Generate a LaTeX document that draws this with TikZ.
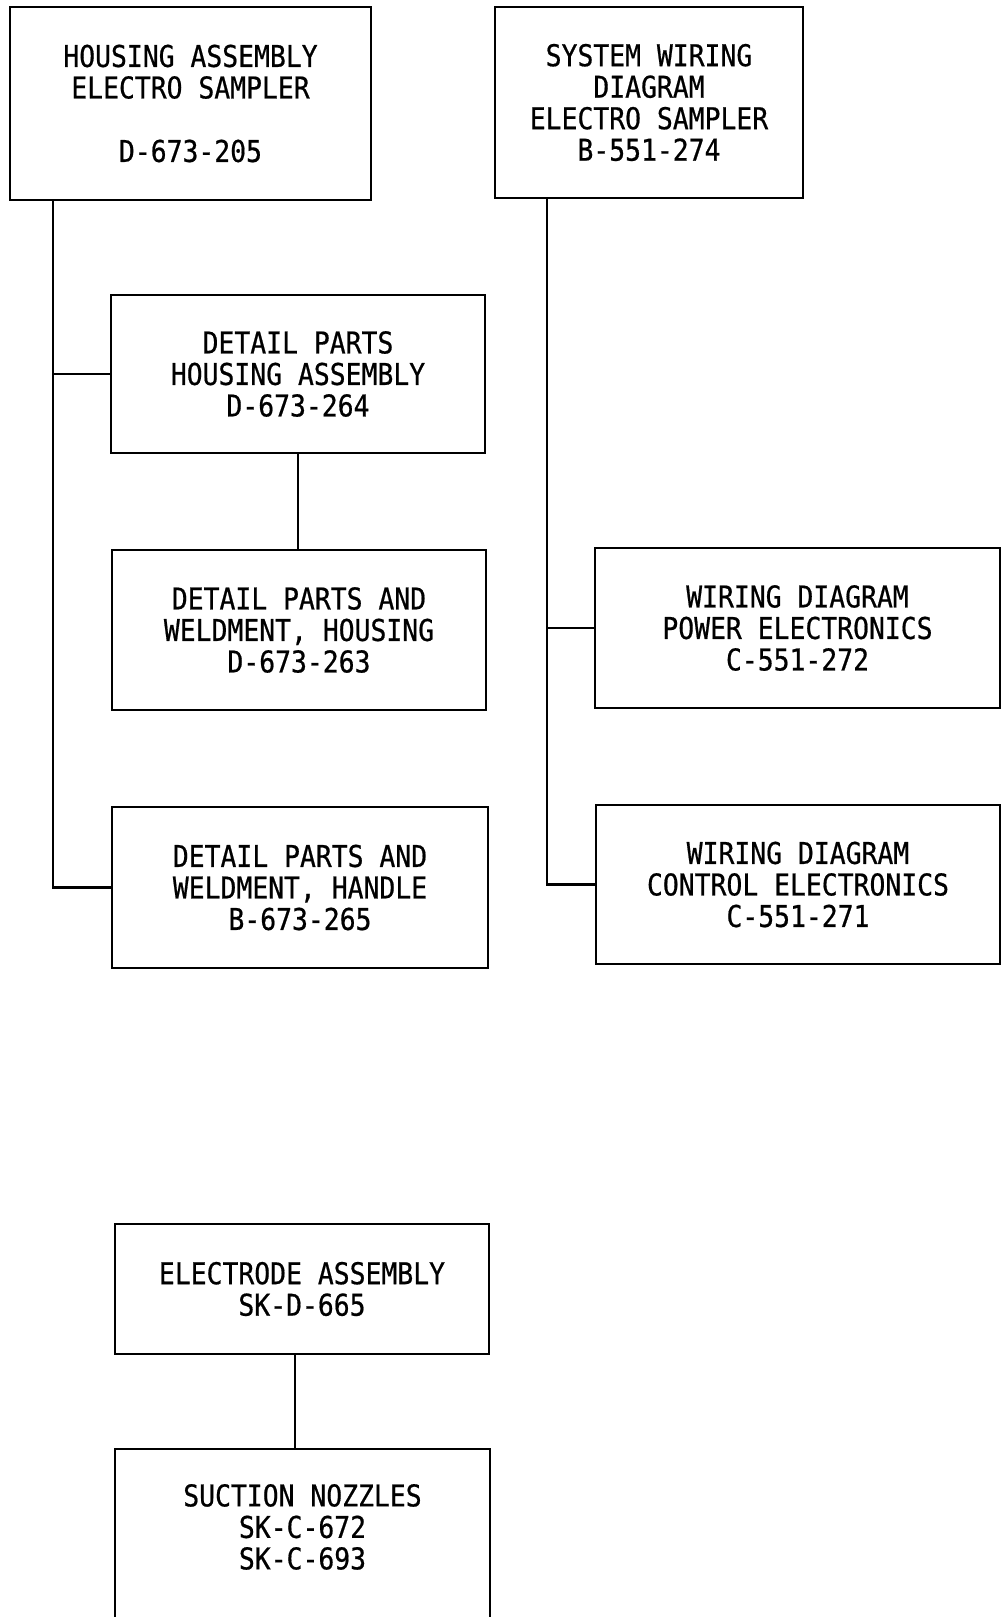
\documentclass[tikz,border=0pt]{standalone}
\usepackage{fontspec}
\newfontfamily\typewriter[FakeStretch=0.88,FakeBold=0.6]{DejaVu Sans Mono}
\frenchspacing

\begin{document}
\begin{tikzpicture}[x=1pt,y=-1pt,
    sheet/.style={draw,line width=2.2pt,align=center,inner sep=0pt,
      font=\typewriter\fontsize{30}{31.5}\selectfont},
    tie/.style={line width=1.7pt},
    trunk/.style={line width=2.6pt}]
  \useasboundingbox (0,0) rectangle (1003,1617);
  % top row
  \node[sheet,minimum width=361pt,minimum height=193pt] (house) at (190.5,103.5) {HOUSING ASSEMBLY\\ELECTRO SAMPLER\\[32pt]D-673-205};
  \node[sheet,minimum width=308pt,minimum height=191pt] (wiring) at (649,102.5) {SYSTEM WIRING\\DIAGRAM\\ELECTRO SAMPLER\\B-551-274};
  % housing branch
  \node[sheet,minimum width=374pt,minimum height=158pt] (detail) at (298,374) {DETAIL PARTS\\HOUSING ASSEMBLY\\D-673-264};
  \node[sheet,minimum width=374pt,minimum height=160pt] (weld) at (299,630) {DETAIL PARTS AND\\WELDMENT, HOUSING\\D-673-263};
  \node[sheet,minimum width=376pt,minimum height=161pt] (handle) at (300,887.5) {DETAIL PARTS AND\\WELDMENT, HANDLE\\B-673-265};
  % wiring branch
  \node[sheet,minimum width=405pt,minimum height=160pt] (power) at (797.5,628) {WIRING DIAGRAM\\POWER ELECTRONICS\\C-551-272};
  \node[sheet,minimum width=404pt,minimum height=159pt] (control) at (798,884.5) {WIRING DIAGRAM\\CONTROL ELECTRONICS\\C-551-271};
  % electrode
  \node[sheet,minimum width=374pt,minimum height=130pt] (electrode) at (302,1289) {ELECTRODE ASSEMBLY\\SK-D-665};
  \node[sheet,minimum width=375pt,inner ysep=35pt,text depth=220pt,anchor=north] (nozzle) at (302.5,1448) {SUCTION NOZZLES\\SK-C-672\\SK-C-693};

  \coordinate (spineL) at (53,0);
  \coordinate (spineR) at (547,0);
  \draw[trunk] (house.south -| spineL) |- (handle.west);
  \draw[tie] (spineL |- detail.west) -- (detail.west);
  \draw[tie] (detail.south) -- (detail.south |- weld.north);
  \draw[trunk] (wiring.south -| spineR) |- (control.west);
  \draw[tie] (spineR |- power.west) -- (power.west);
  \draw[tie] ([xshift=-7pt]electrode.south) -- ([xshift=-7pt]electrode.south |- nozzle.north);
\end{tikzpicture}
\end{document}
